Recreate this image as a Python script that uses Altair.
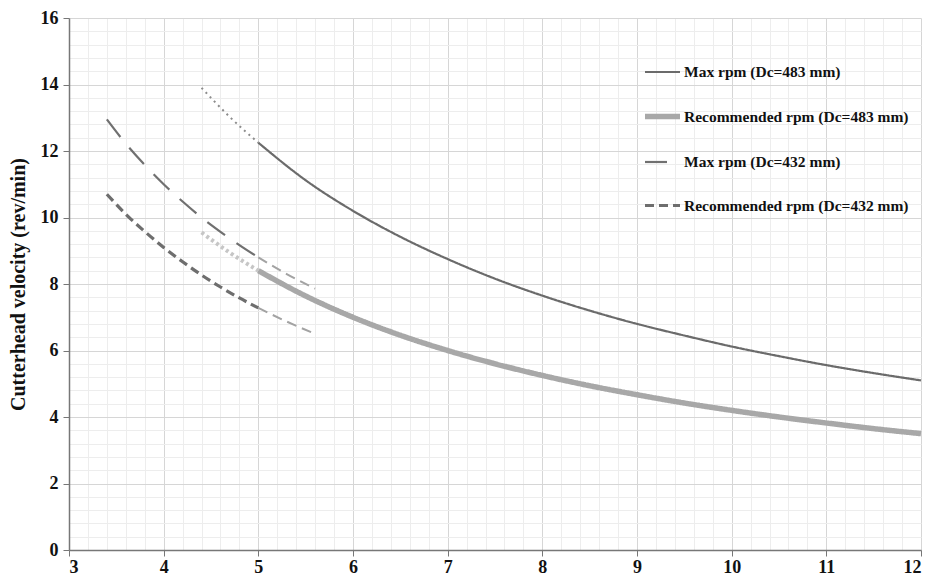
import altair as alt
import pandas as pd

# ---- data ----
series_names = ["Max rpm (Dc=483 mm)", "Recommended rpm (Dc=483 mm)",
                "Max rpm (Dc=432 mm)", "Recommended rpm (Dc=432 mm)"]

max483_x = [5.0, 5.5, 6.0, 6.5, 7.0, 7.5, 8.0, 8.5, 9.0, 9.5, 10.0, 10.5, 11.0, 11.5, 12.0]
max483_y = [12.25, 11.12, 10.2, 9.42, 8.75, 8.16, 7.65, 7.2, 6.8, 6.45, 6.12, 5.83, 5.56, 5.32, 5.1]
rec483_x = [5.0, 5.5, 6.0, 6.5, 7.0, 7.5, 8.0, 8.5, 9.0, 9.5, 10.0, 10.5, 11.0, 11.5, 12.0]
rec483_y = [8.4, 7.64, 7.0, 6.46, 6.0, 5.6, 5.25, 4.94, 4.67, 4.42, 4.2, 4.0, 3.82, 3.65, 3.5]
max432_x = [3.4, 3.6, 3.8, 4.0, 4.2, 4.4, 4.6, 4.8, 5.0]
max432_y = [12.95, 12.22, 11.58, 11.0, 10.48, 10.0, 9.57, 9.17, 8.8]
rec432_x = [3.4, 3.6, 3.8, 4.0, 4.2, 4.4, 4.6, 4.8, 5.0]
rec432_y = [10.7, 10.1, 9.58, 9.1, 8.67, 8.27, 7.91, 7.58, 7.28]

# extrapolated (styled) parts
ext_max483_x = [4.4, 4.7, 5.0]
ext_max483_y = [13.9, 13.02, 12.25]
ext_rec483_x = [4.4, 4.7, 5.0]
ext_rec483_y = [9.55, 8.94, 8.4]
ext_max432_x = [5.0, 5.3, 5.6]
ext_max432_y = [8.8, 8.3, 7.86]
ext_rec432_x = [5.0, 5.3, 5.6]
ext_rec432_y = [7.28, 6.87, 6.5]

x_ticks = [3, 4, 5, 6, 7, 8, 9, 10, 11, 12]
y_ticks = [0, 2, 4, 6, 8, 10, 12, 14, 16]

# ---- tables ----
main_rows = []
for name, xs, ys in zip(series_names,
                        [max483_x, rec483_x, max432_x, rec432_x],
                        [max483_y, rec483_y, max432_y, rec432_y]):
    for a, b in zip(xs, ys):
        main_rows.append({"x": a, "y": b, "series": name})
df_main = pd.DataFrame(main_rows)

ext_rows = []
for name, xs, ys in zip(["e1", "e2", "e3", "e4"],
                        [ext_max483_x, ext_rec483_x, ext_max432_x, ext_rec432_x],
                        [ext_max483_y, ext_rec483_y, ext_max432_y, ext_rec432_y]):
    for a, b in zip(xs, ys):
        ext_rows.append({"x": a, "y": b, "ext": name})
df_ext = pd.DataFrame(ext_rows)

minor_x = [round(3 + 0.2 * i, 1) for i in range(46) if i % 5 != 0]
minor_y = [round(0.4 * i, 1) for i in range(41) if i % 5 != 0]

FONT = "Liberation Serif"
xscale = alt.Scale(domain=[3, 12], nice=False, zero=False)
yscale = alt.Scale(domain=[0, 16], nice=False)

minor = alt.Chart(df_main).mark_line(opacity=0).encode(
    x=alt.X("x:Q", scale=xscale, axis=alt.Axis(values=minor_x, grid=True, gridColor="#ededed",
                                                gridWidth=1, labels=False, ticks=False,
                                                domain=False, title=None, orient="top")),
    y=alt.Y("y:Q", scale=yscale, axis=alt.Axis(values=minor_y, grid=True, gridColor="#ededed",
                                                gridWidth=1, labels=False, ticks=False,
                                                domain=False, title=None, orient="right")),
)

main = alt.Chart(df_main).mark_line(interpolate="monotone").encode(
    x=alt.X("x:Q", scale=xscale,
            axis=alt.Axis(values=x_ticks, grid=True, gridColor="#d6d6d6", title=None,
                          orient="bottom", labelFont=FONT, labelFontWeight="bold",
                          labelFontSize=18, labelColor="#111", labelPadding=2,
                          tickSize=6, tickColor="#777", domainColor="#777", domainWidth=1.5)),
    y=alt.Y("y:Q", scale=yscale,
            axis=alt.Axis(values=y_ticks, grid=True, gridColor="#d6d6d6",
                          title="Cutterhead velocity (rev/min)", orient="left",
                          titleFont=FONT, titleFontWeight="bold", titleFontSize=20,
                          titleColor="#111", titlePadding=12,
                          labelFont=FONT, labelFontWeight="bold", labelFontSize=18,
                          labelColor="#111", labelPadding=5,
                          tickSize=6, tickColor="#777", domainColor="#777", domainWidth=1.5)),
    color=alt.Color("series:N", sort=series_names,
                    scale=alt.Scale(domain=series_names,
                                    range=["#6b6b6b", "#a8a8a8", "#707070", "#6e6e6e"]),
                    title=None),
    strokeDash=alt.StrokeDash("series:N", sort=series_names,
                              scale=alt.Scale(domain=series_names,
                                              range=[[1, 0], [1, 0], [22, 14], [9, 5]]),
                              title=None),
    strokeWidth=alt.StrokeWidth("series:N", sort=series_names,
                                scale=alt.Scale(type="ordinal", domain=series_names,
                                                range=[2.2, 5.5, 2.2, 3.2]),
                                title=None),
)

def ext_layer(name, color, dash, width):
    return alt.Chart(df_ext).transform_filter(alt.datum.ext == name).mark_line(
        interpolate="monotone", color=color, strokeDash=dash, strokeWidth=width
    ).encode(
        x=alt.X("x:Q", scale=xscale, axis=None),
        y=alt.Y("y:Q", scale=yscale, axis=None),
    )

chart = alt.layer(
    minor, main,
    ext_layer("e1", "#8c8c8c", [2, 4], 2),
    ext_layer("e2", "#c6c6c6", [3, 3], 4),
    ext_layer("e3", "#a3a3a3", [10, 6], 2),
    ext_layer("e4", "#a3a3a3", [10, 6], 2),
).resolve_axis(x="independent", y="independent").properties(
    width=852, height=532,
    autosize=alt.AutoSizeParams(type="none"),
    padding={"left": 61, "top": 10, "right": 5, "bottom": 28},
).configure_view(stroke=None).configure_legend(
    orient="none", legendX=573, legendY=35, symbolType="stroke", symbolSize=1225,
    labelFont=FONT, labelFontWeight="bold", labelFontSize=15.5, labelColor="#111",
    rowPadding=15, labelLimit=400, labelOffset=1,
)

chart.save("out.html", embed_options={"renderer": "svg", "actions": False})
